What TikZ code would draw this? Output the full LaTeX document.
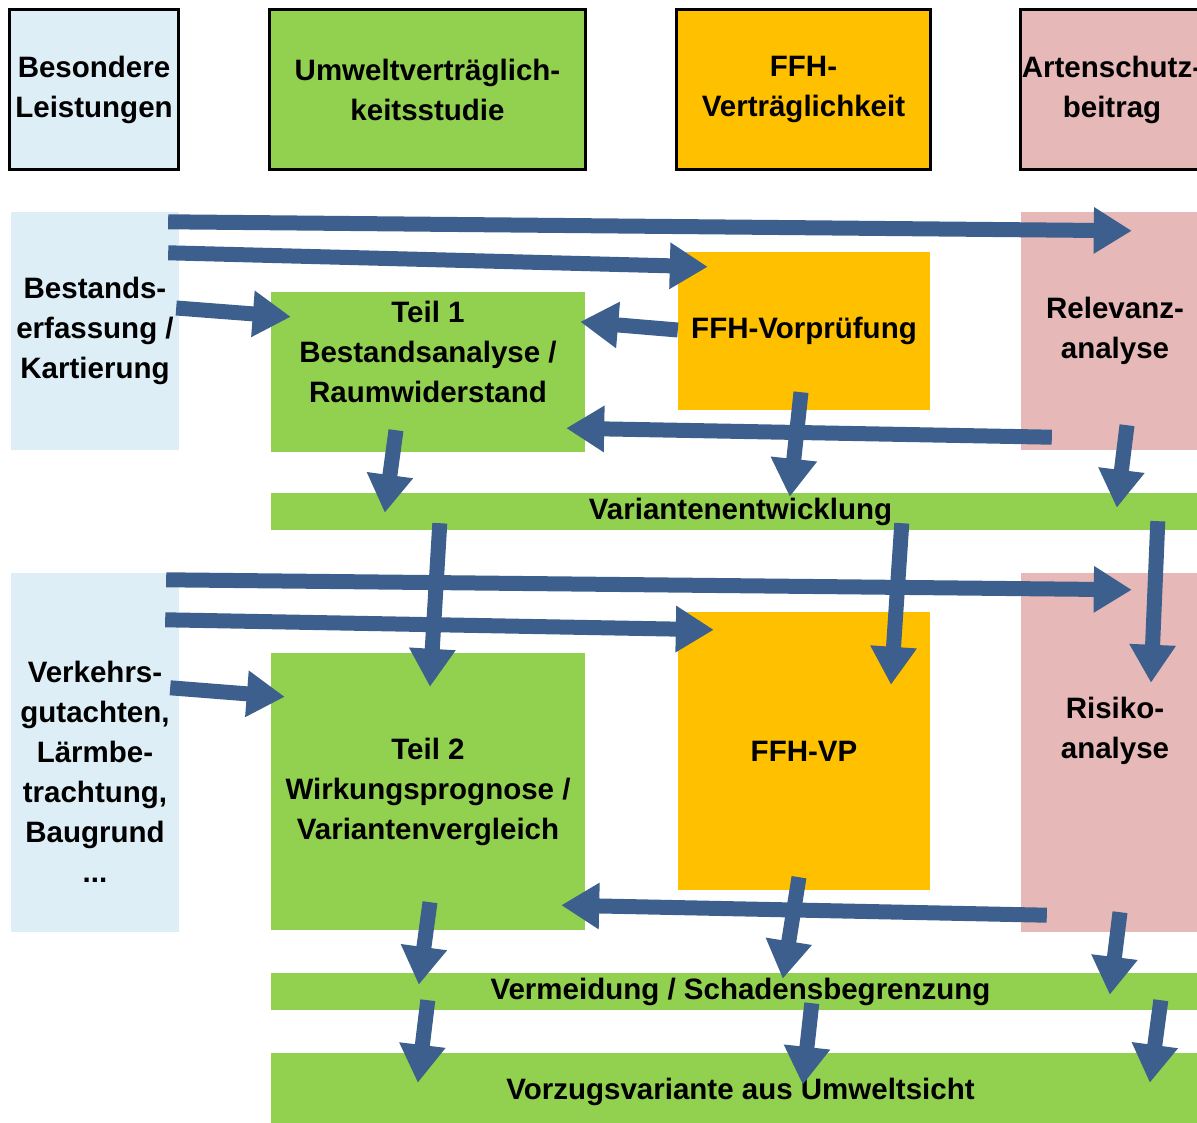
\documentclass[tikz,border=0pt]{standalone}
\usepackage{fontspec}
\setmainfont{Liberation Sans}
\usepackage{tikz}
\usetikzlibrary{arrows.meta,calc}

\definecolor{hellblau}{HTML}{DDEEF7}
\definecolor{gruen}{HTML}{92D050}
\definecolor{ffhgelb}{HTML}{FFC000}
\definecolor{rosa}{HTML}{E6B8B7}
\definecolor{pfeilblau}{HTML}{3C5F8E}

\begin{document}
\begin{tikzpicture}[x=1pt,y=-1pt,
	kasten/.style={inner sep=0pt,align=center,font=\bfseries\fontsize{29.5}{40}\selectfont},
	kopf/.style={kasten,draw=black,line width=3pt,minimum height=160pt},
	pfeil/.style={draw=pfeilblau,line width=15pt,-{Triangle[length=38pt,width=44pt]}}]
	%\draw[help lines,step=50] (0,0) grid (1197,1123);
	\useasboundingbox (0,0) rectangle (1197,1123);
	\clip (0,0) rectangle (1197,1123);

	% Kopfzeile
	\node[kopf,fill=hellblau,minimum width=169pt] (besondere) at (94,89.5) {Besondere\\Leistungen};
	\node[kopf,fill=gruen,minimum width=316pt] (uvs) at (427.5,89.5) {Umweltverträglich-\\keitsstudie};
	\node[kopf,fill=ffhgelb,minimum width=254pt] (ffh) at (803.5,89.5) {FFH-\\Verträglichkeit};
	\node[kopf,fill=rosa,minimum width=183pt] (artenschutz) at (1112,89.5) {Artenschutz-\\beitrag};

	% Teil 1
	\node[kasten,fill=hellblau,minimum width=168pt,minimum height=238pt] (bestand) at (95,331) {Bestands-\\erfassung /\\Kartierung};
	\node[kasten,fill=gruen,minimum width=314pt,minimum height=160pt] (teil1) at (428,372) {};
	\node[kasten] (teil1txt) at (428,352) {Teil 1\\Bestandsanalyse /\\Raumwiderstand};
	\node[kasten,fill=ffhgelb,minimum width=252pt,minimum height=158pt] (vorpruefung) at (804,331) {FFH-Vorprüfung};
	\node[kasten,fill=rosa,minimum width=188pt,minimum height=238pt] (relevanz) at (1115,331) {Relevanz-\\analyse};
	\node[kasten,fill=gruen,minimum width=939pt,minimum height=37pt] (varianten) at (740.5,511.5) {Variantenentwicklung};

	% Teil 2
	\node[kasten,fill=hellblau,minimum width=168pt,minimum height=359pt] (verkehr) at (95,752.5) {};
	\node[kasten] (verkehrtxt) at (95,772) {Verkehrs-\\gutachten,\\Lärmbe-\\trachtung,\\Baugrund\\...};
	\node[kasten,fill=gruen,minimum width=314pt,minimum height=277pt] (teil2) at (428,791.5) {Teil 2\\Wirkungsprognose /\\Variantenvergleich};
	\node[kasten,fill=ffhgelb,minimum width=252pt,minimum height=278pt] (ffhvp) at (804,751) {FFH-VP};
	\node[kasten,fill=rosa,minimum width=188pt,minimum height=359pt] (risiko) at (1115,752.5) {};
	\node[kasten] (risikotxt) at (1115,731) {Risiko-\\analyse};
	\node[kasten,fill=gruen,minimum width=939pt,minimum height=37pt] (vermeidung) at (740.5,991.5) {Vermeidung / Schadensbegrenzung};
	\node[kasten,fill=gruen,minimum width=939pt,minimum height=77pt] (vorzug) at (740.5,1091.5) {Vorzugsvariante aus Umweltsicht};

	\draw[pfeil] ($(bestand.north east)+(-11,10)$) -- ($(relevanz.north west)+(111,19)$);
	\draw[pfeil] ($(bestand.north east)+(-11,41)$) -- ($(vorpruefung.north west)+(30,15)$);
	\draw[pfeil] ($(bestand.east)+(-3,-23)$) -- ($(teil1.north west)+(20,25)$);
	\draw[pfeil] ($(vorpruefung.west)+(0,-1)$) -- ($(teil1.north east)+(-5,30)$);
	\draw[pfeil] ($(relevanz.south west)+(31,-13)$) -- ($(teil1.south east)+(-19,-24)$);
	\draw[pfeil] ($(teil1.south)+(-32,-22)$) -- ($(varianten.north west)+(114,20)$);
	\draw[pfeil] ($(vorpruefung.south)+(-3,-18)$) -- ($(varianten.north west)+(519,4)$);
	\draw[pfeil] ($(relevanz.south)+(12,-25)$) -- ($(varianten.north west)+(846,15)$);
	\draw[pfeil] ($(varianten.south west)+(169,-7)$) -- ($(teil2.north)+(2,34)$);
	\draw[pfeil] ($(varianten.south west)+(631,-7)$) -- ($(ffhvp.north)+(87,73)$);
	\draw[pfeil] ($(varianten.south west)+(887,-9)$) -- ($(risiko.north)+(36,110)$);

	\draw[pfeil] ($(verkehr.north east)+(-13,7)$) -- ($(risiko.north west)+(111,17)$);
	\draw[pfeil] ($(verkehr.north east)+(-14,47)$) -- ($(ffhvp.north west)+(36,18)$);
	\draw[pfeil] ($(verkehr.north east)+(-9,115)$) -- ($(teil2.north west)+(14,44)$);
	\draw[pfeil] ($(risiko.south west)+(26,-17)$) -- ($(teil2.south east)+(-24,-25)$);
	\draw[pfeil] ($(teil2.south)+(2,-28)$) -- ($(vermeidung.north west)+(148,12)$);
	\draw[pfeil] ($(ffhvp.south)+(-5,-13)$) -- ($(vermeidung.north west)+(512,6)$);
	\draw[pfeil] ($(risiko.south)+(5,-20)$) -- ($(vermeidung.north west)+(839,22)$);
	\draw[pfeil] ($(vermeidung.south west)+(157,-10)$) -- ($(vorzug.north west)+(147,30)$);
	\draw[pfeil] ($(vermeidung.south west)+(541,-7)$) -- ($(vorzug.north west)+(532,32)$);
	\draw[pfeil] ($(vermeidung.south west)+(890,-10)$) -- ($(vorzug.north west)+(879,30)$);
\end{tikzpicture}
\end{document}
